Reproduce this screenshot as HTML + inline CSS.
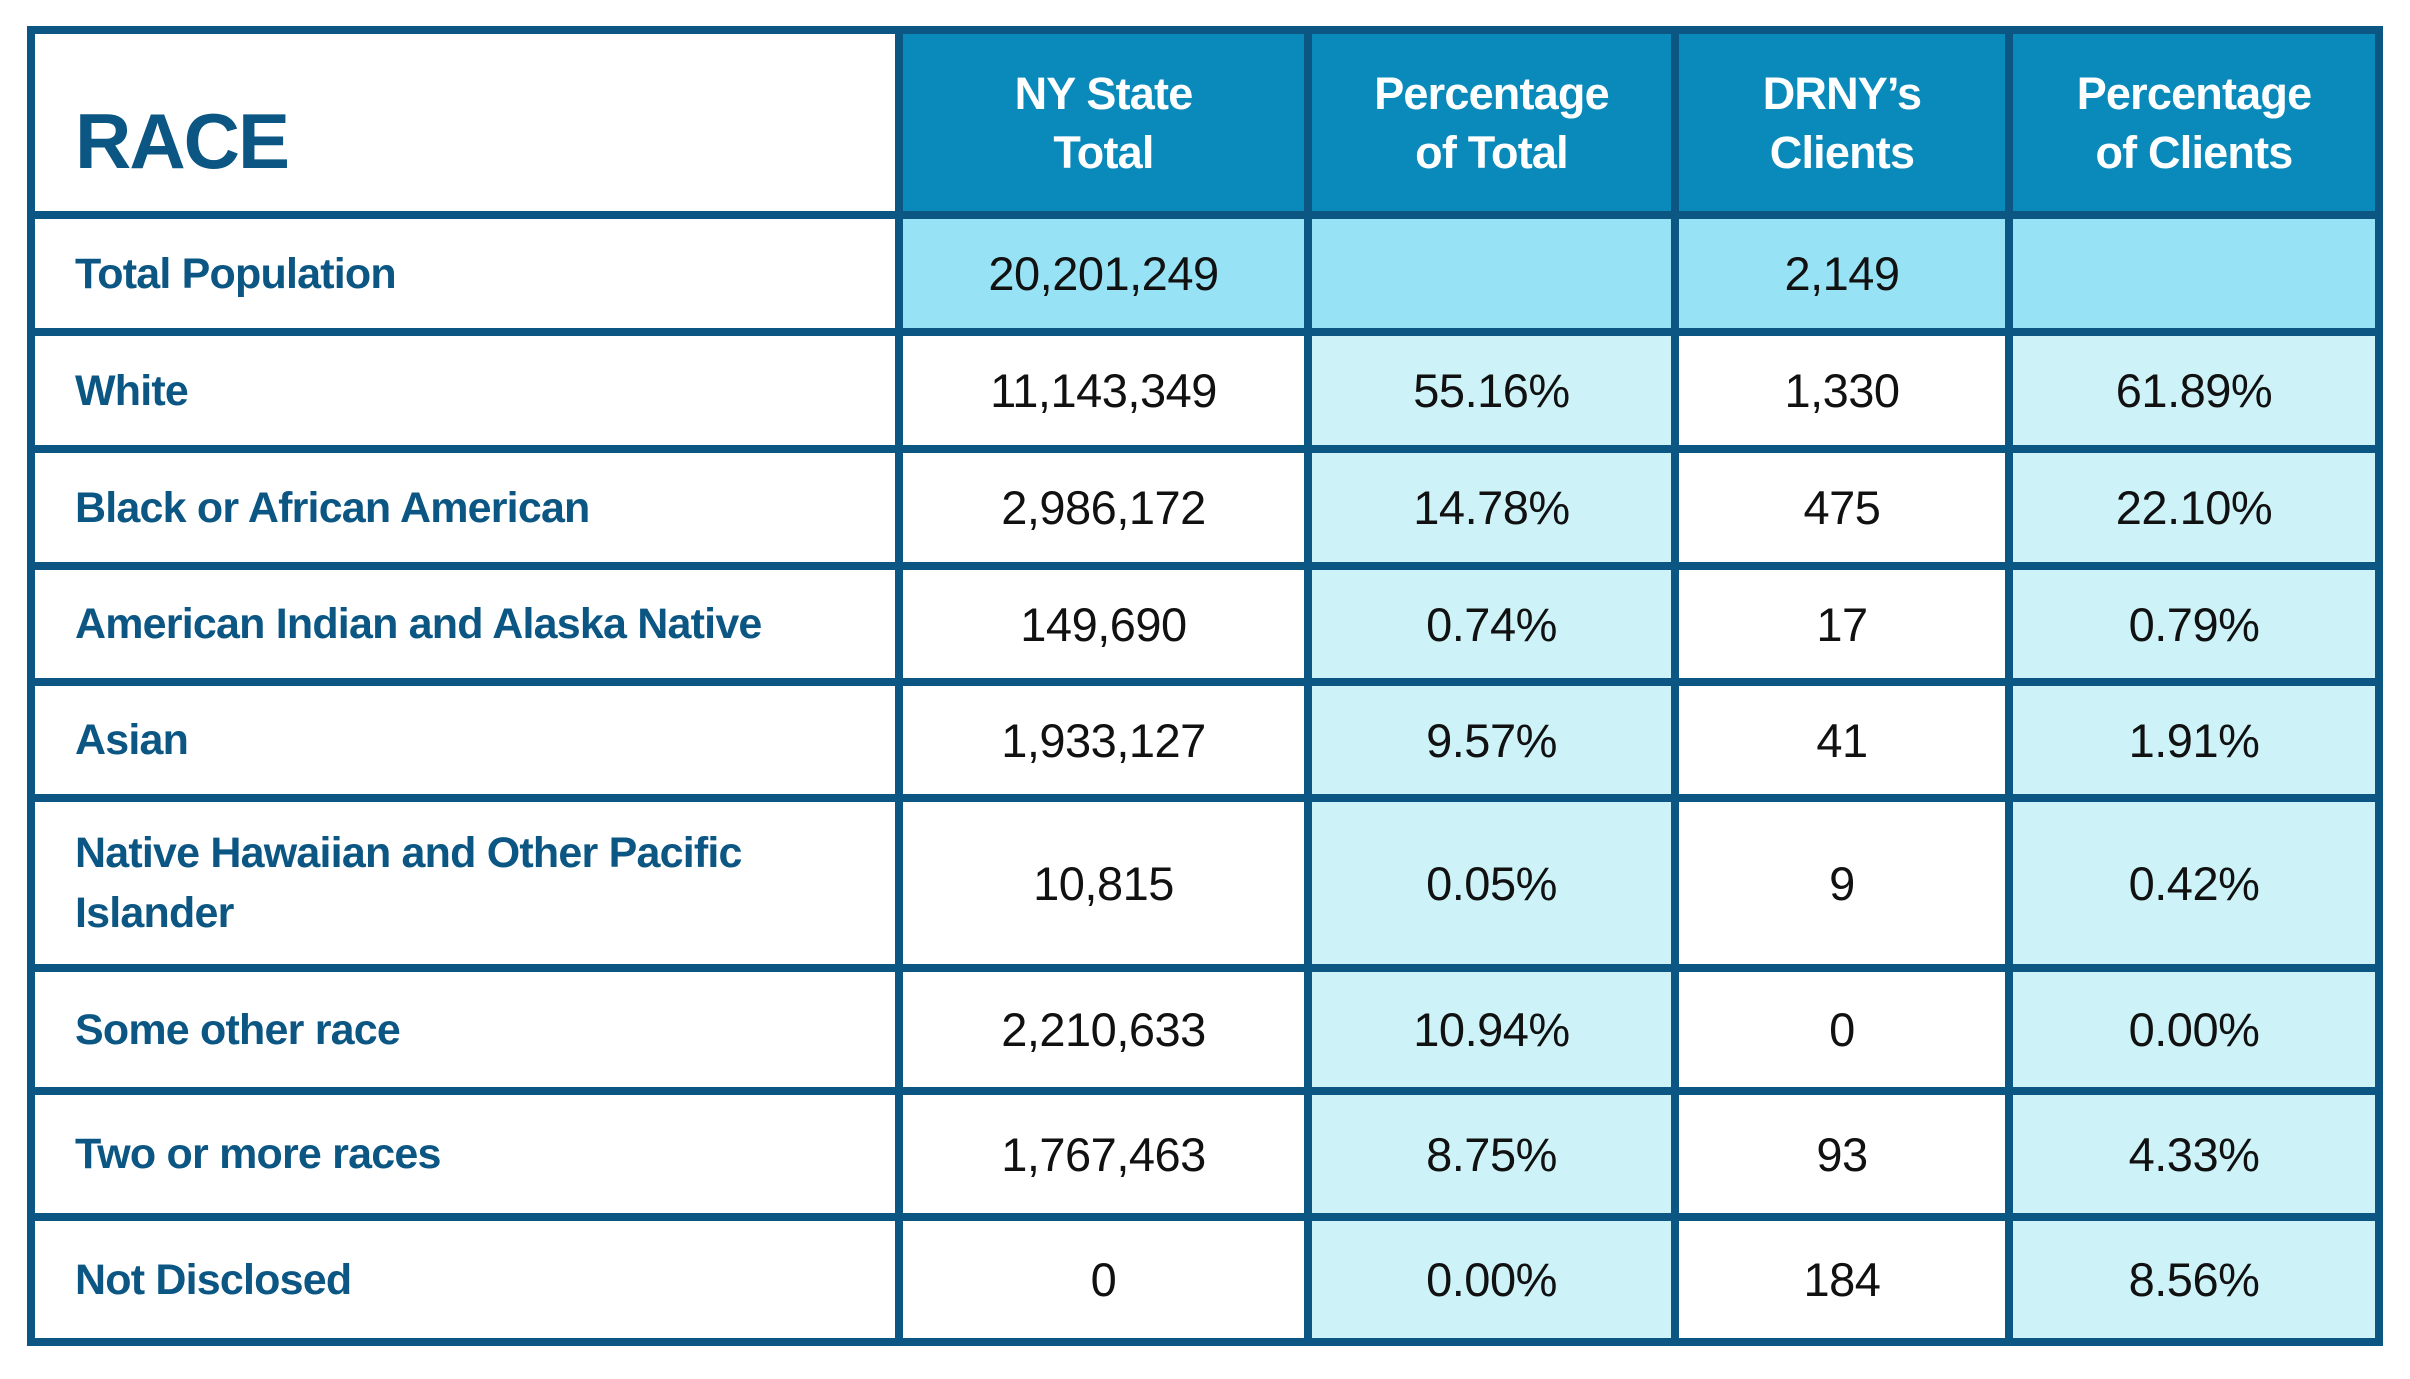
<!DOCTYPE html>
<html><head><meta charset="utf-8">
<style>
html,body{margin:0;padding:0;background:#fff;}
#wrap{position:relative;width:2410px;height:1379px;overflow:hidden;font-family:"Liberation Sans",sans-serif;}
.cell{position:absolute;display:flex;align-items:center;box-sizing:border-box;}
.line{position:absolute;background:#0b5683;}
.lbl{color:#0b5683;font-weight:bold;font-size:43px;letter-spacing:-0.8px;padding-left:44px;line-height:60px;}
.num{color:#111;font-size:47px;justify-content:center;letter-spacing:-0.5px;}
.hd{color:#fff;font-weight:bold;font-size:45px;justify-content:center;text-align:center;line-height:59px;letter-spacing:-0.8px;}
</style></head>
<body>
<div id="wrap"></div>
<script>
const headers = ["RACE","NY State<br>Total","Percentage<br>of Total","DRNY’s<br>Clients","Percentage<br>of Clients"];
const races = ["Total Population","White","Black or African American","American Indian and Alaska Native","Asian","Native Hawaiian and Other Pacific<br>Islander","Some other race","Two or more races","Not Disclosed"];
const nyTotal = ["20,201,249","11,143,349","2,986,172","149,690","1,933,127","10,815","2,210,633","1,767,463","0"];
const pctTotal = ["","55.16%","14.78%","0.74%","9.57%","0.05%","10.94%","8.75%","0.00%"];
const drnyClients = ["2,149","1,330","475","17","41","9","0","93","184"];
const pctClients = ["","61.89%","22.10%","0.79%","1.91%","0.42%","0.00%","4.33%","8.56%"];

const colX = [31, 899, 1308, 1675, 2009, 2379];
const rowY = [30, 215, 332, 449, 566, 682, 798, 968, 1091, 1217, 1342];
const wrap = document.getElementById('wrap');
const cols = [races, nyTotal, pctTotal, drnyClients, pctClients];
const colNames = ['race-label','ny-state-total','percentage-of-total','drny-clients','percentage-of-clients'];

function addCell(r, c, html, bg, cls){
  const d = document.createElement('div');
  d.className = 'cell ' + cls;
  d.style.left = colX[c] + 'px';
  d.style.top = rowY[r] + 'px';
  d.style.width = (colX[c+1]-colX[c]) + 'px';
  d.style.height = (rowY[r+1]-rowY[r]) + 'px';
  d.style.background = bg;
  d.innerHTML = html;
  
  
  wrap.appendChild(d);
}
for (let c = 0; c < 5; c++) {
  if (c === 0) {
    addCell(0, 0, '<span style="font-size:78px;letter-spacing:-2px;position:relative;top:18px">RACE</span>', '#fff', 'lbl');
  } else {
    addCell(0, c, headers[c], '#0a8abb', 'hd');
  }
}
for (let r = 0; r < races.length; r++) {
  for (let c = 0; c < 5; c++) {
    let bg = '#fff';
    if (r === 0 && c > 0) bg = '#98e2f5';
    else if (c === 2 || c === 4) bg = '#cdf3f9';
    addCell(r+1, c, cols[c][r], bg, c === 0 ? 'lbl' : 'num');
  }
}
const T = 8;
for (let i = 0; i < colX.length; i++) {
  const l = document.createElement('div');
  l.className = 'line';
  l.style.left = (colX[i] - T/2) + 'px';
  l.style.top = (rowY[0] - T/2) + 'px';
  l.style.width = T + 'px';
  l.style.height = (rowY[rowY.length-1] - rowY[0] + T) + 'px';
  
  
  wrap.appendChild(l);
}
for (let i = 0; i < rowY.length; i++) {
  const l = document.createElement('div');
  l.className = 'line';
  l.style.left = (colX[0] - T/2) + 'px';
  l.style.top = (rowY[i] - T/2) + 'px';
  l.style.width = (colX[colX.length-1] - colX[0] + T) + 'px';
  l.style.height = T + 'px';
  
  
  wrap.appendChild(l);
}
</script>
</body></html>
